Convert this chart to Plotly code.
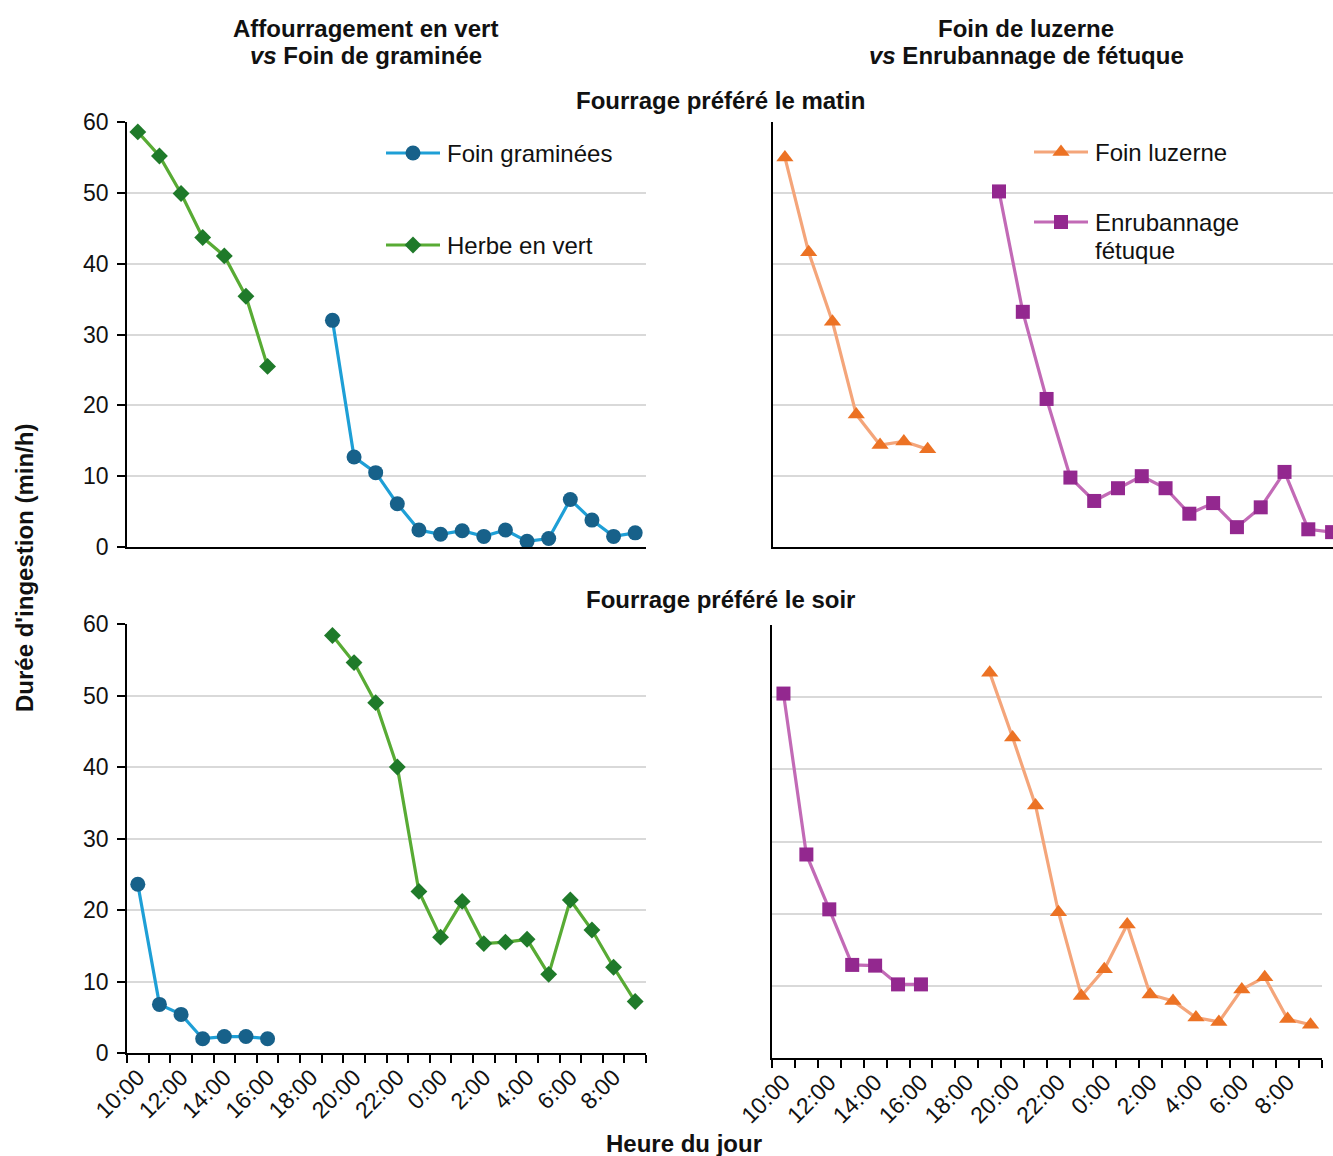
import plotly.graph_objects as go

W, H = 1333, 1156

# ---------------- data ----------------
hours = ["10:00", "11:00", "12:00", "13:00", "14:00", "15:00", "16:00", "17:00",
         "18:00", "19:00", "20:00", "21:00", "22:00", "23:00", "0:00", "1:00",
         "2:00", "3:00", "4:00", "5:00", "6:00", "7:00", "8:00", "9:00"]
tick_labels = hours[::2]

start_morning = "10:00"
start_evening = "19:00"

# Fourrage préféré le matin
herbe_matin = [58.6, 55.2, 49.9, 43.7, 41.1, 35.4, 25.5]
foin_gram_matin = [32.0, 12.7, 10.5, 6.1, 2.4, 1.8, 2.3, 1.5, 2.4, 0.8, 1.2, 6.7, 3.8, 1.5, 2.0]
luzerne_matin = [55.0, 41.6, 31.8, 18.7, 14.4, 14.9, 13.8]
enrub_matin = [50.2, 33.2, 20.9, 9.8, 6.5, 8.3, 10.0, 8.3, 4.7, 6.2, 2.8, 5.6, 10.6, 2.5, 2.1]

# Fourrage préféré le soir
foin_gram_soir = [23.6, 6.8, 5.4, 2.0, 2.3, 2.3, 2.0]
herbe_soir = [58.4, 54.6, 49.0, 40.0, 22.6, 16.2, 21.2, 15.3, 15.5, 15.9, 11.0, 21.4, 17.2, 12.0, 7.2]
enrub_soir = [50.5, 28.2, 20.6, 12.9, 12.8, 10.2, 10.2]
luzerne_soir = [53.4, 44.4, 35.0, 20.2, 8.6, 12.3, 18.5, 8.8, 7.9, 5.6, 5.0, 9.5, 11.2, 5.4, 4.6]

y_ticks = [0, 10, 20, 30, 40, 50, 60]

# ---------------- styles ----------------
FONT = "Liberation Sans, Arial, sans-serif"
TXT = "#111111"
styles = {
    "Foin graminées": dict(line="#1e9fd6", marker="#17618a", symbol="circle", size=15),
    "Herbe en vert": dict(line="#58ab34", marker="#1f7a2a", symbol="diamond", size=13),
    "Foin luzerne": dict(line="#f4a57a", marker="#ec7224", symbol="triangle-up", size=15),
    "Enrubannage fétuque": dict(line="#c26ab6", marker="#93288f", symbol="square", size=14),
}


def xs(start, values):
    i0 = hours.index(start)
    return list(range(i0, i0 + len(values)))


def px(x):
    return x / W


def py(y):
    return 1 - y / H


fig = go.Figure()


def add_series(name, start, values, ax):
    s = styles[name]
    fig.add_trace(go.Scatter(
        x=xs(start, values), y=values, mode="lines+markers", name=name,
        line=dict(color=s["line"], width=3.2),
        marker=dict(color=s["marker"], symbol=s["symbol"], size=s["size"],
                    line=dict(width=0)),
        xaxis="x" + ax, yaxis="y" + ax, showlegend=False, cliponaxis=False,
    ))


# panel 1 : top-left, panel 2 : top-right, panel 3 : bottom-left, panel 4 : bottom-right
add_series("Herbe en vert", start_morning, herbe_matin, "")
add_series("Foin graminées", start_evening, foin_gram_matin, "")
add_series("Foin luzerne", start_morning, luzerne_matin, "2")
add_series("Enrubannage fétuque", start_evening, enrub_matin, "2")
add_series("Foin graminées", start_morning, foin_gram_soir, "3")
add_series("Herbe en vert", start_evening, herbe_soir, "3")
add_series("Enrubannage fétuque", start_morning, enrub_soir, "4")
add_series("Foin luzerne", start_evening, luzerne_soir, "4")

# ---------------- axes ----------------
grid = dict(showgrid=True, gridcolor="#d9d9d9", gridwidth=1.5, zeroline=False)


def yaxis(domain, labels, anchor):
    d = dict(domain=domain, range=[0, 60], tickmode="array", tickvals=y_ticks,
             showline=True, linecolor="black", linewidth=1.5, anchor=anchor,
             automargin=False,
             tickfont=dict(family=FONT, size=23, color=TXT), fixedrange=True, **grid)
    if labels:
        d.update(ticks="outside", ticklen=8, tickcolor="black", tickwidth=1.5,
                 showticklabels=True, ticklabelstandoff=4)
    else:
        d.update(ticks="", showticklabels=False)
    return d


def xaxis(domain, rng, labels, anchor):
    d = dict(domain=domain, range=rng, showline=True, linecolor="black", linewidth=1.5,
             showgrid=False, zeroline=False, anchor=anchor, fixedrange=True,
             automargin=False)
    if labels:
        d.update(tickmode="array", tickvals=list(range(0, 24, 2)), ticktext=tick_labels,
                 ticks="", tickangle=-45, tickfont=dict(family=FONT, size=23, color=TXT),
                 showticklabels=True,
                 minor=dict(tickmode="array", tickvals=[i - 0.5 for i in range(25)],
                            ticks="outside", ticklen=8, tickcolor="black", tickwidth=1.5,
                            showgrid=False))
    else:
        d.update(ticks="", showticklabels=False)
    return d


top_dom = [py(547), py(122)]
botL_dom = [py(1053), py(624)]
botR_dom = [py(1058), py(625)]
left_x = [px(127), px(646)]
topR_x = [px(773), 1.0]
botR_x = [px(772), px(1322)]
topR_range_hi = -0.5 + (W - 773) / ((1344 - 773) / 24)

fig.update_layout(
    xaxis=xaxis(left_x, [-0.5, 23.5], False, "y"),
    yaxis=yaxis(top_dom, True, "x"),
    xaxis2=xaxis(topR_x, [-0.5, topR_range_hi], False, "y2"),
    yaxis2=yaxis(top_dom, False, "x2"),
    xaxis3=xaxis(left_x, [-0.5, 23.5], True, "y3"),
    yaxis3=yaxis(botL_dom, True, "x3"),
    xaxis4=xaxis(botR_x, [-0.5, 23.5], True, "y4"),
    yaxis4=yaxis(botR_dom, False, "x4"),
    xaxis5=dict(domain=[0, 1], range=[0, W], visible=False, anchor="y5",
                fixedrange=True, automargin=False),
    yaxis5=dict(domain=[0, 1], range=[H, 0], visible=False, anchor="x5",
                fixedrange=True, automargin=False),
)

# ---------------- legends (drawn in pixel space) ----------------
legend_items = [
    ("Foin graminées", ["Foin graminées"], 386, 153),
    ("Herbe en vert", ["Herbe en vert"], 386, 245),
    ("Foin luzerne", ["Foin luzerne"], 1034, 152),
    ("Enrubannage fétuque", ["Enrubannage", "fétuque"], 1034, 222),
]
annotations = []
for key, lines, x0, y0 in legend_items:
    s = styles[key]
    fig.add_trace(go.Scatter(
        x=[x0, x0 + 54], y=[y0, y0], mode="lines",
        line=dict(color=s["line"], width=3.2),
        xaxis="x5", yaxis="y5", showlegend=False, hoverinfo="skip", cliponaxis=False,
    ))
    fig.add_trace(go.Scatter(
        x=[x0 + 27], y=[y0], mode="markers",
        marker=dict(color=s["marker"], symbol=s["symbol"], size=s["size"], opacity=1,
                    line=dict(width=0)),
        xaxis="x5", yaxis="y5", showlegend=False, hoverinfo="skip", cliponaxis=False,
    ))
    for k, t in enumerate(lines):
        annotations.append(dict(text=t, x=x0 + 59, y=y0 + 28 * k, xref="x5", yref="y5",
                                xanchor="left", yanchor="middle", showarrow=False,
                                font=dict(family=FONT, size=24, color=TXT)))

# ---------------- titles ----------------
def ann(text, x, y, size=24, **kw):
    d = dict(text=text, x=px(x), y=py(y), xref="paper", yref="paper",
             xanchor="center", yanchor="middle", showarrow=False,
             font=dict(family=FONT, size=size, color=TXT))
    d.update(kw)
    annotations.append(d)


ann("<b>Affourragement en vert</b>", 366, 28)
ann("<b><i>vs</i> Foin de graminée</b>", 366, 56)
ann("<b>Foin de luzerne</b>", 1026, 28)
ann("<b><i>vs</i> Enrubannage de fétuque</b>", 1026, 56)
ann("<b>Fourrage préféré le matin</b>", 720, 101)
ann("<b>Fourrage préféré le soir</b>", 720, 599)
ann("<b>Heure du jour</b>", 684, 1143)
ann("<b>Durée d'ingestion (min/h)</b>", 24, 568, textangle=-90)

fig.update_layout(
    width=W, height=H, margin=dict(l=0, r=0, t=0, b=0, autoexpand=False),
    paper_bgcolor="white", plot_bgcolor="rgba(0,0,0,0)",
    showlegend=False, annotations=annotations,
    font=dict(family=FONT, color=TXT),
)

fig.write_html("out.html", post_script="document.body.style.margin='0';",
               config={"displayModeBar": False})
